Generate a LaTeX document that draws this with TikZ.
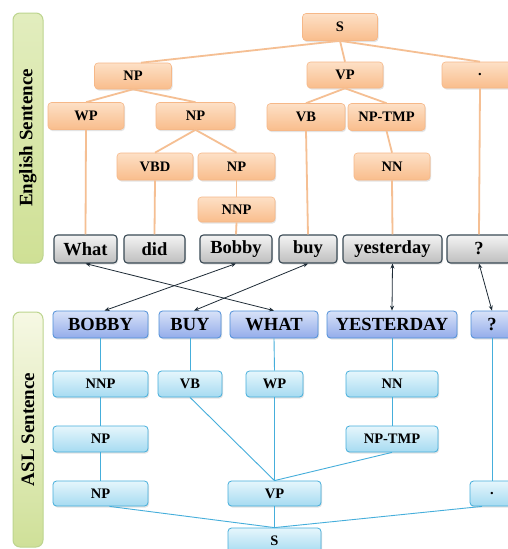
\documentclass[tikz,border=0pt]{standalone}
\usepackage{fontspec}
\setmainfont{Liberation Serif}
\usetikzlibrary{arrows.meta,shadows}
\definecolor{otop}{HTML}{FDE0C6}
\definecolor{obot}{HTML}{F9BD8C}
\definecolor{oborder}{HTML}{F6B888}
\definecolor{oline}{HTML}{F5BF93}
\definecolor{gtop}{HTML}{F4F4F4}
\definecolor{gbot}{HTML}{BEBEBE}
\definecolor{gborder}{HTML}{3A4A55}
\definecolor{btop}{HTML}{D8E2F8}
\definecolor{bbot}{HTML}{93ACEA}
\definecolor{bborder}{HTML}{4E8FD8}
\definecolor{ctop}{HTML}{E6F6FC}
\definecolor{cbot}{HTML}{A6DBF1}
\definecolor{cborder}{HTML}{45AEDB}
\definecolor{cline}{HTML}{45AEDB}
\definecolor{arr}{HTML}{1E2B36}
\definecolor{ltop}{HTML}{E2EDBE}
\definecolor{lbot}{HTML}{CFE095}
\definecolor{latop}{HTML}{F6F8E4}
\definecolor{labot}{HTML}{CFE098}
\definecolor{lborder}{HTML}{BDD58F}
\newcommand\tagfont{\fontsize{14.5}{15}\selectfont\bfseries}
\newcommand\wordfont{\fontsize{18.5}{19}\selectfont\bfseries}
\newcommand\sidefont{\fontsize{19}{20}\selectfont\bfseries}
\tikzset{
  box/.style={rounded corners=3.5pt, inner sep=0pt, text=black,
    drop shadow={opacity=0.22, shadow xshift=1pt, shadow yshift=-1.5pt}},
  otag/.style={box, draw=oborder, line width=0.6pt, top color=otop, bottom color=obot,
    font=\tagfont},
  gword/.style={box, draw=gborder, line width=1.1pt, top color=gtop, bottom color=gbot,
    font=\wordfont, minimum height=28pt},
  bword/.style={box, draw=bborder, line width=0.8pt, top color=btop, bottom color=bbot,
    font=\wordfont, minimum height=27pt},
  ctag/.style={box, draw=cborder, line width=0.8pt, top color=ctop, bottom color=cbot,
    font=\tagfont},
  side/.style={rounded corners=7pt, draw=lborder, line width=1pt, inner sep=0pt,
    minimum width=30pt},
  oedge/.style={draw=oline, line width=1.8pt},
  cedge/.style={draw=cline, line width=0.9pt},
  aedge/.style={draw=arr, line width=0.8pt, {Stealth[length=5pt,width=4pt]}-{Stealth[length=5pt,width=4pt]}},
}
\begin{document}
\begin{tikzpicture}[x=1pt,y=-1pt]
\path[use as bounding box, fill=white] (0,0) rectangle (507,549);
% side labels
\node[side, top color=ltop, bottom color=lbot, minimum height=250pt] (lEng) at (28,138) {};
\node[rotate=90, font=\sidefont] (tEng) at (lEng.center) {English Sentence};
\node[side, top color=latop, bottom color=labot, minimum height=235pt] (lASL) at (28,429.5) {};
\node[rotate=90, font=\sidefont] (tASL) at (lASL.center) {ASL Sentence};
% English tree
\node[otag, minimum width=75pt, minimum height=27pt] (eS) at (340,27) {S};
\node[otag, minimum width=77pt, minimum height=26pt] (eNP1) at (133,76) {NP};
\node[otag, minimum width=76pt, minimum height=26pt] (eVP) at (345,75) {VP};
\node[otag, minimum width=76pt, minimum height=26pt] (eDot) at (480,75) {.};
\node[otag, minimum width=76pt, minimum height=27pt] (eWP) at (86,116) {WP};
\node[otag, minimum width=79pt, minimum height=27pt] (eNP2) at (195.5,116) {NP};
\node[otag, minimum width=78pt, minimum height=27pt] (eVB) at (306,117) {VB};
\node[otag, minimum width=77pt, minimum height=27pt] (eNPT) at (386.5,117) {NP-TMP};
\node[otag, minimum width=76pt, minimum height=27pt] (eVBD) at (155,166.5) {VBD};
\node[otag, minimum width=77pt, minimum height=27pt] (eNP3) at (236.5,166.5) {NP};
\node[otag, minimum width=76pt, minimum height=27pt] (eNN) at (392,166.5) {NN};
\node[otag, minimum width=77pt, minimum height=25pt] (eNNP) at (236.5,209.5) {NNP};
% English words
\node[gword, minimum width=63pt] (wWhat) at (85.5,249) {What};
\node[gword, minimum width=61pt] (wDid) at (154.5,249) {did};
\node[gword, minimum width=72pt] (wBobby) at (236,249) {Bobby};
\node[gword, minimum width=58pt] (wBuy) at (308,249) {buy};
\node[gword, minimum width=99pt] (wYest) at (392.5,249) {yesterday};
\node[gword, minimum width=64pt] (wQ) at (479,249) {?};
% ASL words
\node[bword, minimum width=95pt] (aBOBBY) at (100.5,324.5) {BOBBY};
\node[bword, minimum width=62pt] (aBUY) at (190,324.5) {BUY};
\node[bword, minimum width=88pt] (aWHAT) at (274,324.5) {WHAT};
\node[bword, minimum width=130pt] (aYEST) at (392,324.5) {YESTERDAY};
\node[bword, minimum width=42pt] (aQ) at (492,324.5) {?};
% ASL tree
\node[ctag, minimum width=95pt, minimum height=26pt] (aNNP) at (100.5,384) {NNP};
\node[ctag, minimum width=64pt, minimum height=26pt] (aVB) at (190,384) {VB};
\node[ctag, minimum width=57pt, minimum height=26pt] (aWP) at (274.5,384) {WP};
\node[ctag, minimum width=92pt, minimum height=26pt] (aNN) at (392,384) {NN};
\node[ctag, minimum width=95pt, minimum height=26pt] (aNP1) at (100.5,439) {NP};
\node[ctag, minimum width=92pt, minimum height=26pt] (aNPT) at (392,439) {NP-TMP};
\node[ctag, minimum width=95pt, minimum height=25pt] (aNP2) at (100.5,493.5) {NP};
\node[ctag, minimum width=93pt, minimum height=25pt] (aVP) at (274.5,493.5) {VP};
\node[ctag, minimum width=44pt, minimum height=25pt] (aDot) at (492,493.5) {.};
\node[ctag, minimum width=93pt, minimum height=25pt] (aS) at (274.5,540.5) {S};
% English edges
\draw[oedge] (eS.south) -- ([xshift=8pt]eNP1.north);
\draw[oedge] (eS.south) -- (eVP.north);
\draw[oedge] (eS.south) -- (eDot.north);
\draw[oedge] (eNP1.south) -- (eWP.north);
\draw[oedge] (eNP1.south) -- (eNP2.north);
\draw[oedge] (eNP2.south) -- (eVBD.north);
\draw[oedge] (eNP2.south) -- (eNP3.north);
\draw[oedge] (eNP3.south) -- (eNNP.north);
\draw[oedge] (eNNP.south) -- (wBobby.north);
\draw[oedge] (eWP.south) -- (wWhat.north);
\draw[oedge] (eVBD.south) -- (wDid.north);
\draw[oedge] (eVP.south) -- (eVB.north);
\draw[oedge] (eVP.south) -- (eNPT.north);
\draw[oedge] (eVB.south) -- (wBuy.north);
\draw[oedge] (eNPT.south) -- (eNN.north);
\draw[oedge] (eNN.south) -- (wYest.north);
\draw[oedge] (eDot.south) -- (wQ.north);
% ASL edges
\draw[cedge] (aBOBBY.south) -- (aNNP.north);
\draw[cedge] (aNNP.south) -- (aNP1.north);
\draw[cedge] (aNP1.south) -- (aNP2.north);
\draw[cedge] (aBUY.south) -- (aVB.north);
\draw[cedge] (aWHAT.south) -- (aWP.north);
\draw[cedge] (aWP.south) -- (aVP.north);
\draw[cedge] (aVB.south) -- (aVP.north);
\draw[cedge] (aNPT.south) -- (aVP.north);
\draw[cedge] (aYEST.south) -- (aNN.north);
\draw[cedge] (aNN.south) -- (aNPT.north);
\draw[cedge] (aQ.south) -- (aDot.north);
\draw[cedge] ([xshift=9pt]aNP2.south) -- (aS.north);
\draw[cedge] (aVP.south) -- (aS.north);
\draw[cedge] ([xshift=-10pt]aDot.south) -- (aS.north);
% alignment arrows
\draw[aedge] (wWhat.south) -- (aWHAT.north);
\draw[aedge] (wBobby.south) -- ([xshift=4pt]aBOBBY.north);
\draw[aedge] (wBuy.south) -- ([xshift=4pt]aBUY.north);
\draw[aedge] (wYest.south) -- (aYEST.north);
\draw[aedge] (wQ.south) -- (aQ.north);
\end{tikzpicture}
\end{document}
